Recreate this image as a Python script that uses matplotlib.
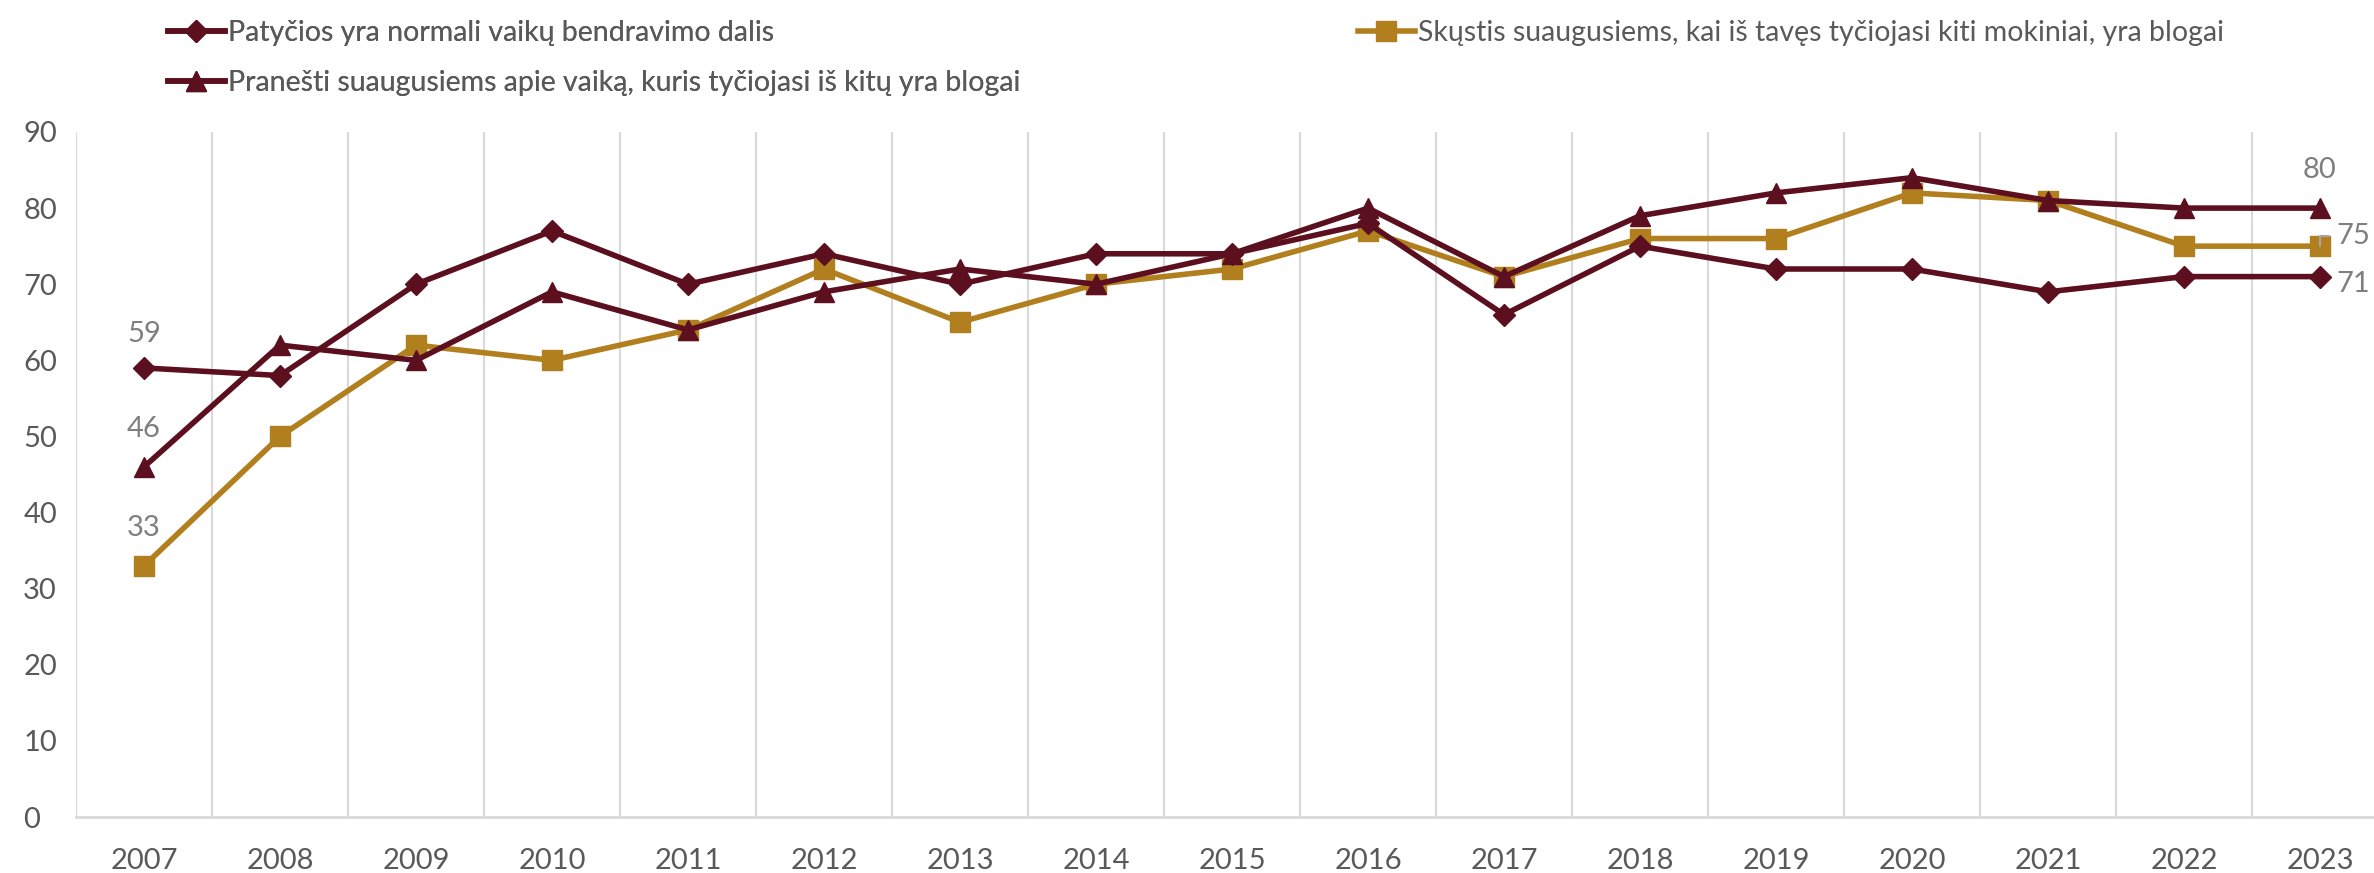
import matplotlib.pyplot as plt
import numpy as np

plt.rcParams['font.family'] = ['Lato', 'DejaVu Sans']

years = [2007, 2008, 2009, 2010, 2011, 2012, 2013, 2014, 2015,
         2016, 2017, 2018, 2019, 2020, 2021, 2022, 2023]
normali = [59, 58, 70, 77, 70, 74, 70, 74, 74, 78, 66, 75, 72, 72, 69, 71, 71]
skustis = [33, 50, 62, 60, 64, 72, 65, 70, 72, 77, 71, 76, 76, 82, 81, 75, 75]
pranesti = [46, 62, 60, 69, 64, 69, 72, 70, 74, 80, 71, 79, 82, 84, 81, 80, 80]

lab1 = "Patyčios yra normali vaikų bendravimo dalis"
lab2 = "Skųstis suaugusiems, kai iš tavęs tyčiojasi kiti mokiniai, yra blogai"
lab3 = "Pranešti suaugusiems apie vaiką, kuris tyčiojasi iš kitų yra blogai"

maroon = "#5C0F1E"
gold = "#B27F1E"
txt = "#595959"
lbl = "#7F7F7F"

fig = plt.figure(figsize=(23.74, 8.73), dpi=100)
ax = fig.add_axes([76/2374, 56/873, 2312/2374, 685/873])

x = np.arange(len(years))
l1, = ax.plot(x, normali, color=maroon, lw=4, marker="D", ms=11, label=lab1, zorder=3)
l2, = ax.plot(x, skustis, color=gold, lw=4, marker="s", ms=14, label=lab2, zorder=2)
l3, = ax.plot(x, pranesti, color=maroon, lw=4, marker="^", ms=15, label=lab3, zorder=4)

ax.set_xlim(-0.5, len(years) - 0.5)
ax.set_ylim(0, 90)
ax.set_yticks(range(0, 91, 10))
ax.set_xticks(x)
ax.set_xticklabels([str(y) for y in years])
ax.set_xticks(np.arange(-0.5, len(years), 1), minor=True)
ax.grid(True, which="minor", axis="x", color="#D9D9D9", lw=1.5)
ax.tick_params(which="both", length=0)
ax.tick_params(axis="x", labelsize=21, colors=txt, pad=22)
ax.tick_params(axis="y", labelsize=21, colors=txt, pad=38)
for t in ax.get_yticklabels():
    t.set_horizontalalignment("left")
for s in ["top", "right", "left"]:
    ax.spines[s].set_visible(False)
ax.spines["bottom"].set_color("#D9D9D9")
ax.spines["bottom"].set_linewidth(2)

# data labels
fs = 21
ax.text(x[0], normali[0] + 4.5, str(normali[0]), ha="center", va="center", fontsize=fs, color=lbl)
ax.text(x[0], pranesti[0] + 5, str(pranesti[0]), ha="center", va="center", fontsize=fs, color=lbl)
ax.text(x[0], skustis[0] + 5, str(skustis[0]), ha="center", va="center", fontsize=fs, color=lbl)
ax.text(x[-1], pranesti[-1] + 5, str(pranesti[-1]), ha="center", va="center", fontsize=fs, color=lbl)
ax.annotate(str(skustis[-1]), xy=(x[-1], skustis[-1]), xytext=(x[-1] + 0.12, skustis[-1] + 1.4),
            ha="left", va="center", fontsize=fs, color=lbl,
            arrowprops=dict(arrowstyle="-", color="#A6A6A6", lw=1.5,
                            connectionstyle="angle,angleA=0,angleB=90,rad=0",
                            shrinkA=3, shrinkB=0))
ax.text(x[-1] + 0.12, normali[-1] - 1, str(normali[-1]), ha="left", va="center", fontsize=fs, color=lbl)

leg1 = fig.legend(handles=[l1, l3], loc="upper left", bbox_to_anchor=(148/2374, 1.0),
                  frameon=False, fontsize=20.5, labelcolor=txt, handlelength=2.0,
                  handletextpad=0.1, labelspacing=0.85, borderaxespad=0.3)
fig.add_artist(leg1)
fig.legend(handles=[l2], loc="upper left", bbox_to_anchor=(1338/2374, 1.0),
           frameon=False, fontsize=20.5, labelcolor=txt, handlelength=2.0,
           handletextpad=0.1, borderaxespad=0.3)

fig.savefig("out.png", dpi=100)
